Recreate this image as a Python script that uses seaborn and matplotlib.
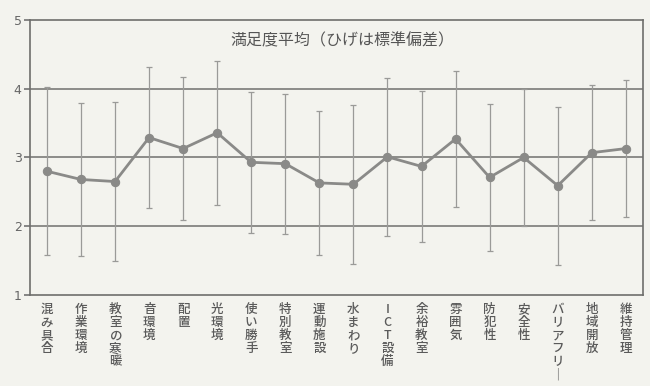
import numpy as np
import pandas as pd
import matplotlib
matplotlib.use("Agg")
import matplotlib.pyplot as plt
import seaborn as sns

# 項目ごとの満足度平均と標準偏差
items = ['混み具合', '作業環境', '教室の寒暖', '音環境', '配置', '光環境',
         '使い勝手', '特別教室', '運動施設', '水まわり', 'ICT設備', '余裕教室',
         '雰囲気', '防犯性', '安全性', 'バリアフリー', '地域開放', '維持管理']
means = [2.80, 2.68, 2.65, 3.29, 3.13, 3.36, 2.93, 2.91, 2.63, 2.61, 3.01, 2.87,
         3.27, 2.71, 3.00, 2.59, 3.07, 3.13]
stds = [1.22, 1.12, 1.16, 1.03, 1.04, 1.05, 1.03, 1.02, 1.05, 1.16, 1.15, 1.10,
        0.99, 1.07, 1.00, 1.15, 0.98, 1.00]
yticks = [1, 2, 3, 4, 5]
title = '満足度平均（ひげは標準偏差）'

sns.set_theme(style='white')
plt.rcParams['font.family'] = ['Noto Sans CJK JP', 'DejaVu Sans']

df = pd.DataFrame({'item': items, 'mean': means, 'std': stds})
df['pos'] = np.arange(len(df))

paper = '#f3f3ee'
gray = '#8a8a88'
fig = plt.figure(figsize=(6.5, 3.86), dpi=100, facecolor=paper)
ax = fig.add_axes([0.046, 0.236, 0.943, 0.712], facecolor=paper)

for y in [2, 3, 4]:
    ax.axhline(y, color='#7a7a78', lw=1.2, zorder=1)

ax.errorbar(df['pos'], df['mean'], yerr=df['std'], fmt='none', ecolor='#9a9a98',
            elinewidth=0.9, capsize=2.5, capthick=0.9, zorder=2)
sns.lineplot(data=df, x='pos', y='mean', ax=ax, color=gray, lw=2.0,
             marker='o', markersize=6, markeredgecolor=gray, zorder=3)

ax.set_xlim(-0.5, len(items) - 0.5)
ax.set_ylim(1, 5)
ax.set_yticks(yticks)
ax.set_yticklabels([str(v) for v in yticks], fontsize=9, color='#666666',
                   family='DejaVu Sans')

def vertical(s):
    return '\n'.join('｜' if c == 'ー' else c for c in s)

ax.set_xticks(df['pos'])
ax.set_xticklabels([vertical(s) for s in items], fontsize=9, color='#5a5a5a',
                   va='top', linespacing=1.0, fontweight='medium')
ax.tick_params(axis='x', length=0, pad=6)
ax.set_xticks(np.arange(-0.5, len(items), 1), minor=True)
ax.tick_params(axis='x', which='minor', length=3, color='#888888', direction='in')
ax.tick_params(axis='y', length=4, color='#777777', direction='out', pad=2, left=True)
ax.set_xlabel('')
ax.set_ylabel('')

for side in ['top', 'right', 'left', 'bottom']:
    ax.spines[side].set_color('#6e6e6c')
    ax.spines[side].set_linewidth(1.2)

ax.text(0.51, 0.925, title, transform=ax.transAxes, ha='center', va='center',
        fontsize=11.5, color='#555555')

fig.savefig('out.png', dpi=100, facecolor=paper)
